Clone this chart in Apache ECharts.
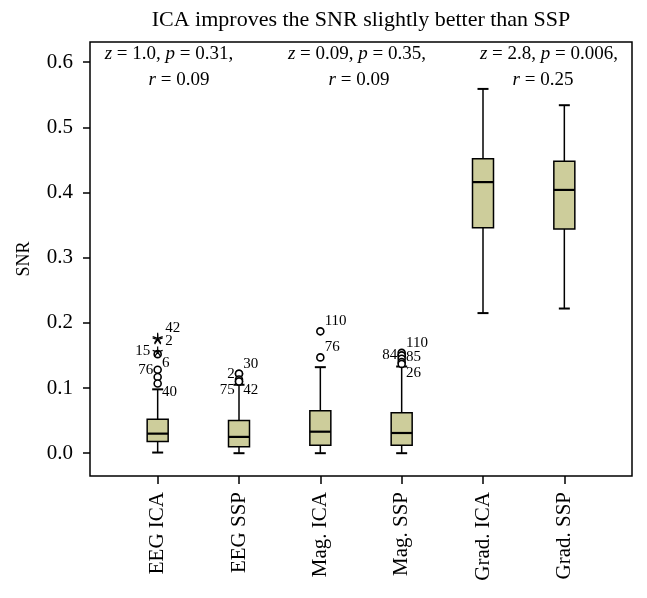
<!DOCTYPE html>
<html>
<head>
    <meta charset="UTF-8">
    <title>SNR boxplot</title>
    <script src="https://cdn.jsdelivr.net/npm/echarts@6/dist/echarts.min.js"></script>
</head>
<body style="margin:0">

<div id="main" style="width: 647px;height:598px"></div>

<script type="text/javascript">
    // categories
    var categories = ['EEG ICA', 'EEG SSP', 'Mag. ICA', 'Mag. SSP', 'Grad. ICA', 'Grad. SSP'];
    // low whisker, Q1, median, Q3, high whisker
    var lowWhisker = [0.001, 0.000, 0.000, 0.000, 0.215, 0.222];
    var q1 = [0.018, 0.010, 0.012, 0.012, 0.346, 0.344];
    var median = [0.030, 0.025, 0.033, 0.031, 0.416, 0.404];
    var q3 = [0.052, 0.050, 0.065, 0.062, 0.452, 0.448];
    var highWhisker = [0.098, 0.105, 0.132, 0.133, 0.559, 0.534];
    // outliers: [category index, value, case id]
    var outliers = [
        [0, 0.152, '6'], [0, 0.128, '76'], [0, 0.117, ''], [0, 0.107, '40'],
        [1, 0.122, '30'], [1, 0.122, '2'], [1, 0.113, ''], [1, 0.110, '75'], [1, 0.110, '42'],
        [2, 0.187, '110'], [2, 0.147, '76'],
        [3, 0.154, '110'], [3, 0.150, '84'], [3, 0.150, '85'], [3, 0.145, ''], [3, 0.140, ''], [3, 0.137, '26']
    ];
    // extremes (star markers)
    var extremes = [[0, 0.177, '42'], [0, 0.175, '2'], [0, 0.156, '15']];
    // label side for each outlier / extreme label
    var outlierSide = ['dr', 'l', 'r', 'dr', 'ur', 'l', 'r', 'dl', 'dr', 'ur', 'ur', 'ur', 'l', 'r', 'r', 'r', 'dr'];
    var extremeSide = ['ur', 'r', 'l'];
    var yTicks = [0, 0.1, 0.2, 0.3, 0.4, 0.5, 0.6];
    var title = 'ICA improves the SNR slightly better than SSP';

    var serif = '"Liberation Serif", "DejaVu Serif", serif';

    function labelFor(id, side) {
        var off = {ur: [-2, -10], r: [-2, 2], dr: [-2, 9], l: [2, 0], dl: [2, 9], ul: [2, -6]}[side];
        return {
            show: id !== '',
            formatter: id,
            position: side.indexOf('l') >= 0 ? 'left' : 'right',
            distance: 2,
            offset: off,
            color: '#000',
            fontFamily: serif,
            fontSize: 15
        };
    }

    var boxData = categories.map(function (c, i) {
        return [i, lowWhisker[i], q1[i], median[i], q3[i], highWhisker[i]];
    });

    var starPath = 'path://M0,0L0,-5M0,0L4.76,-1.55M0,0L2.94,4.05M0,0L-2.94,4.05M0,0L-4.76,-1.55';

    var myChart = echarts.init(document.getElementById('main'));
    var option = {
        backgroundColor: '#fff',
        animation: false,
        grid: {left: 117, right: 42, top: 42, bottom: 122, outerBoundsMode: 'none'},
        xAxis: {
            type: 'category',
            data: categories,
            boundaryGap: true,
            axisLine: {show: false, onZero: false},
            axisTick: {show: true, alignWithLabel: true, length: 8, lineStyle: {color: '#000', width: 1.5}},
            axisLabel: {rotate: 90, margin: 16, color: '#000', fontFamily: serif, fontSize: 21},
            splitLine: {show: false}
        },
        yAxis: {
            type: 'value',
            min: -0.035,
            max: 0.631,
            offset: 27,
            name: 'SNR',
            nameLocation: 'middle',
            nameGap: 57,
            nameTextStyle: {color: '#000', fontFamily: serif, fontSize: 18},
            axisLine: {show: false},
            axisTick: {show: true, length: 7, customValues: yTicks, lineStyle: {color: '#000', width: 1.5}},
            axisLabel: {
                margin: 17, color: '#000', fontFamily: serif, fontSize: 21, customValues: yTicks,
                formatter: function (v) { return v.toFixed(1); }
            },
            splitLine: {show: false}
        },
        graphic: [
            {
                type: 'rect', z: 100, silent: true,
                shape: {x: 90, y: 42, width: 542, height: 434},
                style: {fill: 'none', stroke: '#000', lineWidth: 1.5}
            },
            {
                type: 'text', x: 361, y: 20,
                style: {text: title, x: 0, y: 0, fill: '#000', font: '22px ' + serif, align: 'center', verticalAlign: 'middle'}
            },
            {type: 'text', x: 169, y: 54, style: ann('{i|z} = 1.0, {i|p} = 0.31,')},
            {type: 'text', x: 357, y: 54, style: ann('{i|z} = 0.09, {i|p} = 0.35,')},
            {type: 'text', x: 549, y: 54, style: ann('{i|z} = 2.8, {i|p} = 0.006,')},
            {type: 'text', x: 179, y: 80, style: ann('{i|r} = 0.09')},
            {type: 'text', x: 359, y: 80, style: ann('{i|r} = 0.09')},
            {type: 'text', x: 543, y: 80, style: ann('{i|r} = 0.25')}
        ],
        series: [
            {
                type: 'custom',
                data: boxData,
                encode: {x: 0, y: [1, 2, 3, 4, 5]},
                renderItem: function (params, api) {
                    var i = api.value(0);
                    var x = api.coord([i, 0])[0];
                    var yl = api.coord([i, api.value(1)])[1];
                    var y1 = api.coord([i, api.value(2)])[1];
                    var ym = api.coord([i, api.value(3)])[1];
                    var y3 = api.coord([i, api.value(4)])[1];
                    var yh = api.coord([i, api.value(5)])[1];
                    var hw = 10.5, cw = 5.5;
                    var ls = {stroke: '#000', lineWidth: 1.5, fill: null};
                    return {
                        type: 'group',
                        children: [
                            {type: 'line', shape: {x1: x, y1: yh, x2: x, y2: y3}, style: ls},
                            {type: 'line', shape: {x1: x, y1: y1, x2: x, y2: yl}, style: ls},
                            {type: 'line', shape: {x1: x - cw, y1: yh, x2: x + cw, y2: yh}, style: {stroke: '#000', lineWidth: 2}},
                            {type: 'line', shape: {x1: x - cw, y1: yl, x2: x + cw, y2: yl}, style: {stroke: '#000', lineWidth: 2}},
                            {type: 'rect', shape: {x: x - hw, y: y3, width: 2 * hw, height: y1 - y3},
                                style: {fill: '#cdcd9b', stroke: '#000', lineWidth: 1.5}},
                            {type: 'line', shape: {x1: x - hw, y1: ym, x2: x + hw, y2: ym}, style: {stroke: '#000', lineWidth: 2.2}}
                        ]
                    };
                }
            },
            {
                type: 'scatter',
                symbol: 'circle',
                symbolSize: 7,
                itemStyle: {color: '#fff', borderColor: '#000', borderWidth: 1.6, opacity: 1},
                z: 3,
                data: outliers.map(function (o, k) {
                    return {value: [o[0], o[1]], label: labelFor(o[2], outlierSide[k])};
                })
            },
            {
                type: 'scatter',
                symbol: starPath,
                symbolSize: 10,
                itemStyle: {color: 'none', borderColor: '#000', borderWidth: 1.2, opacity: 1},
                z: 4,
                data: extremes.map(function (o, k) {
                    return {value: [o[0], o[1]], label: labelFor(o[2], extremeSide[k])};
                })
            }
        ]
    };

    function ann(t) {
        return {
            text: t, x: 0, y: 0, fill: '#000', align: 'center', verticalAlign: 'middle',
            font: '19px ' + serif,
            rich: {i: {fontStyle: 'italic', fontFamily: serif, fontSize: 19, fill: '#000'}}
        };
    }

    myChart.setOption(option);
</script>
</body>
</html>
